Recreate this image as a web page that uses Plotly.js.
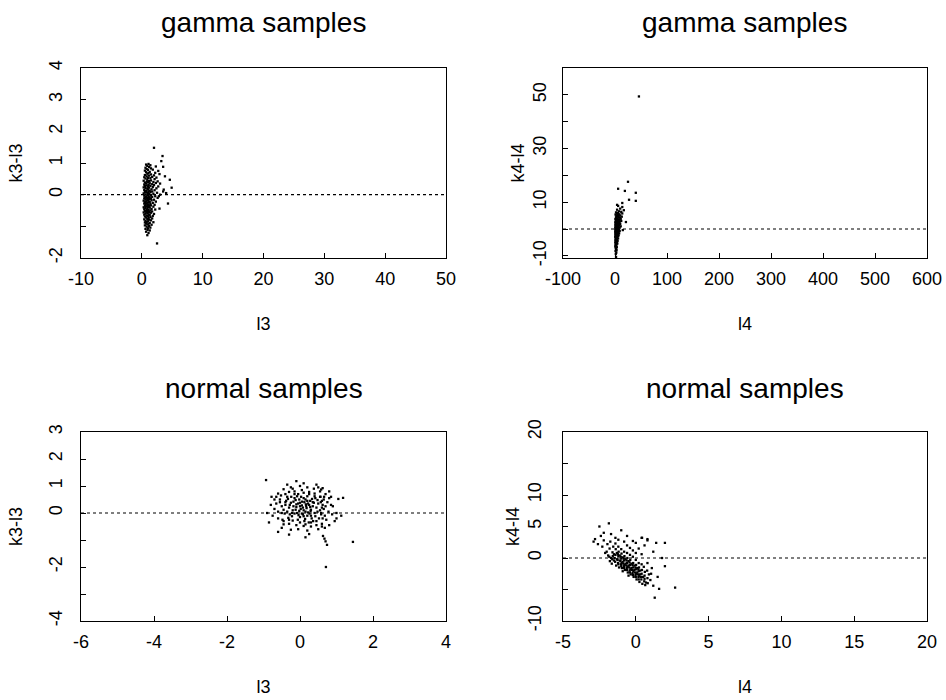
<!DOCTYPE html>
<html><head><meta charset="utf-8">
<script src="https://cdn.plot.ly/plotly-3.0.1.min.js"></script>
<style>body{margin:0;background:#fff}#chart{width:946px;height:700px}</style>
</head><body><div id="chart"></div>
<script>
// gamma samples: [l3, k3-l3]
const gammaL3Points = [
[0.9,-1.28],[1.1,-1.21],[0.7,-1.17],[1.3,-1.13],[0.95,-1.11],
[0.6,-1.08],[1.0,-1.06],[1.4,-1.04],[0.8,-1.01],[1.2,-0.99],[0.5,-0.97],[1.6,-0.95],[0.9,-0.94],[1.1,-0.92],[0.7,-0.91],
[1.3,-0.89],[0.5,-0.88],[1.9,-0.87],[0.8,-0.86],[1.0,-0.84],[0.6,-0.83],[1.5,-0.81],[1.2,-0.79],[0.4,-0.78],[0.9,-0.77],[1.7,-0.75],[1.1,-0.74],[0.7,-0.72],[1.4,-0.71],
[0.5,-0.69],[1.0,-0.68],[1.8,-0.67],[0.8,-0.66],[1.3,-0.64],[0.4,-0.63],[1.1,-0.62],[2.0,-0.61],[0.6,-0.6],[0.9,-0.58],[1.5,-0.57],[0.3,-0.56],[1.2,-0.55],[0.7,-0.54],[1.7,-0.53],[1.0,-0.52],[0.5,-0.51],[1.4,-0.5],
[0.8,-0.49],[1.1,-0.48],[2.2,-0.47],[0.4,-0.46],[1.6,-0.45],[0.9,-0.44],[2.9,-0.44],[0.6,-0.42],[1.3,-0.41],[0.3,-0.4],[1.0,-0.39],[1.9,-0.38],[0.7,-0.37],[1.2,-0.36],[0.5,-0.35],[1.5,-0.34],[0.9,-0.33],[2.1,-0.32],[1.1,-0.31],[0.6,-0.3],
[1.4,-0.29],[4.3,-0.28],[0.4,-0.28],[0.8,-0.27],[1.8,-0.26],[1.0,-0.25],[0.5,-0.24],[1.3,-0.23],[2.3,-0.22],[0.7,-0.21],[1.1,-0.2],[0.3,-0.19],[1.6,-0.18],[0.9,-0.17],[2.0,-0.16],[0.6,-0.15],[1.2,-0.14],[1.5,-0.13],[0.4,-0.12],[0.8,-0.11],[2.6,-0.1],[1.0,-0.1],
[0.5,-0.09],[1.3,-0.08],[1.7,-0.07],[0.7,-0.06],[2.2,-0.05],[1.1,-0.04],[0.4,-0.03],[0.9,-0.02],[1.5,-0.01],[3.0,0.0],[0.6,0.01],[1.2,0.02],[1.9,0.03],[0.3,0.04],[1.0,0.05],[2.5,0.06],[0.8,0.07],[1.4,0.08],[4.0,0.05],[0.5,0.09],[1.7,0.1],[3.5,0.1],[1.1,0.1],[2.8,-0.05],
[0.7,0.12],[1.3,0.13],[2.1,0.14],[0.4,0.15],[1.0,0.16],[3.6,0.16],[1.6,0.17],[0.9,0.19],[2.4,0.2],[0.6,0.21],[1.2,0.22],[4.9,0.22],[0.3,0.23],[1.8,0.24],[1.0,0.25],[2.7,0.26],[0.5,0.27],[1.4,0.28],[0.8,0.29],[2.0,0.3],
[1.1,0.31],[0.4,0.32],[1.7,0.33],[3.0,0.35],[0.7,0.35],[1.3,0.36],[2.3,0.37],[0.5,0.38],[1.0,0.39],[1.9,0.4],[0.8,0.41],[2.6,0.42],[1.2,0.43],[0.3,0.44],[1.5,0.45],[4.6,0.47],[0.9,0.47],[2.1,0.49],
[0.6,0.51],[1.4,0.52],[3.8,0.58],[1.0,0.53],[2.4,0.54],[0.4,0.55],[1.7,0.56],[0.8,0.58],[1.2,0.6],[2.0,0.61],[0.5,0.62],[1.5,0.64],[2.9,0.65],[0.9,0.66],[1.1,0.68],[2.2,0.69],
[0.7,0.71],[1.3,0.72],[2.7,0.75],[0.5,0.76],[1.0,0.78],[1.8,0.79],[0.8,0.81],[1.5,0.83],[3.5,0.88],[0.6,0.85],[1.2,0.87],[2.3,0.89],
[0.9,0.91],[1.4,0.93],[0.7,0.95],[1.1,0.97],[3.2,1.06],[3.4,1.22],[2.0,1.48],[2.5,-1.54]
];
// gamma samples: [l4, k4-l4]
const gammaL4Points = [
[2,-10.4],[1.5,-9.3],[2.5,-8.8],[1,-8.2],[3,-7.9],[2,-7.5],[1.5,-7.1],[3.5,-6.8],[0.5,-6.5],[2.5,-6.2],[1.8,-6.0],
[1,-5.8],[3,-5.6],[4.5,-5.4],[2,-5.2],[0.5,-5.0],[3.5,-4.8],[1.5,-4.6],[5,-4.4],[2.5,-4.3],[0.8,-4.1],[4,-3.9],[1.8,-3.8],[3,-3.6],[6,-3.5],[1.2,-3.3],[2.2,-3.2],[4.2,-3.1],
[0.5,-2.9],[3.5,-2.8],[2,-2.7],[5.5,-2.6],[1,-2.5],[7,-2.4],[3,-2.3],[4.5,-2.2],[1.5,-2.1],[2.5,-2.0],[6,-1.9],[0.8,-1.8],[3.8,-1.7],[8,-1.6],[2,-1.5],[5,-1.4],[1.2,-1.3],[3.2,-1.2],[6.5,-1.1],[0.5,-1.0],[4.2,-0.9],[2.4,-0.8],[9,-0.7],[1.6,-0.6],[5.5,-0.5],[3,-0.4],[15,-0.4],[0.9,-0.3],[7.5,-0.2],[2,-0.1],[4.8,-0.05],
[1,0.1],[3.5,0.2],[6,0.3],[2,0.4],[9,0.5],[0.5,0.6],[4.5,0.7],[7,0.8],[2.8,0.9],[11,1.0],[1.5,1.1],[5.5,1.2],[3.5,1.3],[8,1.4],[0.8,1.5],[6.5,1.6],[2.2,1.7],[4,1.8],[10,1.9],[1.2,2.0],[5,2.1],[3,2.2],[7.5,2.3],[21,2.6],[0.6,2.5],[4.4,2.6],[9,2.7],[2.5,2.8],[6,2.9],[12,3.0],
[1.5,3.1],[4,3.2],[8,3.3],[2.8,3.5],[6.5,3.6],[0.8,3.7],[11,3.8],[5,3.9],[3,4.1],[9.5,4.2],[1.8,4.3],[7,4.5],[13,4.6],[4.5,4.7],[2.5,4.9],[10,5.0],[6,5.2],[1,5.4],[8.5,5.5],[3.5,5.7],[14,5.8],[5.5,6.0],[2,6.2],[12,6.4],
[7.5,6.6],[17,7.0],[4,7.2],[10,7.6],[14,8.2],[6,8.6],[4,9.0],[14,9.7],
[27,10.9],[40,10.5],[19,14.2],[6,15],[40,13.5],[25,17.6],[46,49.4]
];
// normal samples: [l3, k3-l3]
const normalL3Points = [
[0.02,0.15],[-0.1,0.22],[0.15,0.05],[-0.2,0.1],[0.25,0.3],[0.08,-0.05],[-0.05,0.35],[0.3,0.12],[-0.3,0.2],[0.12,0.4],
[-0.15,-0.02],[0.2,-0.1],[0.35,0.25],[-0.25,0.38],[0.05,0.28],[-0.08,0.0],[0.18,0.18],[-0.35,0.05],[0.28,0.45],[-0.12,0.48],
[0.4,0.0],[0.0,-0.15],[-0.22,-0.12],[0.1,0.55],[0.32,-0.2],[-0.4,0.3],[0.22,0.35],[-0.18,0.25],[0.14,-0.22],[-0.02,0.08],
[0.38,0.38],[-0.28,-0.05],[0.06,0.42],[-0.38,0.45],[0.26,-0.02],[-0.06,-0.25],[0.45,0.2],[-0.15,0.55],[0.17,0.26],[-0.32,-0.18],
[0.03,0.6],[0.33,0.52],[-0.24,0.6],[0.12,-0.3],[-0.1,0.32],[0.42,-0.12],[-0.45,0.12],[0.2,0.62],[-0.04,-0.08],[0.29,0.08],
[0.5,0.35],[-0.2,-0.28],[0.08,0.2],[-0.42,-0.02],[0.36,-0.3],[0.55,0.1],[-0.05,0.7],[0.24,-0.35],[-0.33,0.52],[0.15,0.5],
[0.48,0.48],[-0.5,0.25],[0.0,0.38],[0.62,0.3],[0.58,-0.05],[0.55,0.6],[0.6,0.45],[0.65,0.15],[0.52,-0.2],[0.66,0.6],
[0.57,0.4],[0.6,0.2],[0.58,0.0],[0.62,-0.2],[0.6,-0.5],[0.56,0.6],
[-0.12,0.12],[0.1,0.1],[0.22,0.02],[-0.28,0.3],[0.05,-0.02],[0.35,0.4],[-0.18,0.42],[0.28,0.22],[-0.02,0.5],[0.16,0.32],
[-0.35,0.6],[0.42,0.55],[0.0,0.25],[-0.22,0.0],[0.3,-0.1],[0.1,-0.12],[-0.4,0.4],[0.48,0.05],[-0.08,0.62],[0.2,0.45],
[0.65,0.5],[0.7,0.25],[0.68,-0.1],[-0.5,0.0],[-0.55,0.4],[0.4,0.62],[-0.15,0.7],[0.25,0.7],[0.1,0.75],[-0.3,-0.25],
[0.3,-0.35],[-0.45,-0.3],[0.0,-0.35],[0.15,-0.42],[0.45,-0.3],[-0.65,0.6],[0.8,0.55],[0.85,0.3],[-0.2,0.9],[0.5,0.95],
[-0.55,0.5],[-0.6,0.05],[-0.48,-0.25],[-0.52,0.65],[-0.65,0.35],[-0.4,0.7],[-0.3,0.78],[-0.15,0.8],[0.05,0.85],[0.25,0.78],
[0.4,0.72],[0.55,0.8],[0.7,0.7],[0.75,0.4],[0.78,0.05],[0.72,-0.25],[0.6,-0.4],[0.45,-0.45],[0.3,-0.5],[0.1,-0.48],
[-0.1,-0.45],[-0.3,-0.4],[-0.45,-0.42],[-0.6,-0.2],[-0.7,0.15],[-0.7,0.5],[-0.6,0.72],[-0.45,0.88],[-0.25,0.95],[0.0,1.0],
[0.2,0.95],[0.38,0.9],[0.62,0.92],[0.85,0.6],[0.9,0.25],[0.88,-0.05],[0.8,-0.45],[0.68,-0.55],[0.5,-0.6],[0.2,-0.65],
[-0.05,-0.6],[-0.25,-0.62],[-0.5,-0.55],[-0.75,-0.1],[-0.8,0.3],[-0.78,0.6],
[-0.93,1.22],[-0.1,1.18],[-0.35,1.05],[0.1,1.1],[0.45,1.05],[0.58,0.87],[0.8,0.8],[1.05,0.52],[1.18,0.56],[1.13,-0.1],
[1.0,0.0],[0.95,-0.3],[1.0,-0.2],[-0.6,-0.7],[0.25,-0.78],[0.15,-0.9],[-0.3,-0.8],[0.63,-0.85],[0.67,-0.95],[0.7,-1.05],[0.74,-1.18],[1.45,-1.07],[0.71,-2.0],[-0.85,-0.35],[-0.9,0.0]
];
// normal samples: [l4, k4-l4]
const normalL4Points = [
[-2.0,1.0],[-1.95,2.2],[-1.9,0.4],
[-1.8,1.5],[-1.82,0.2],[-1.75,2.6],[-1.78,-0.5],
[-1.6,0.9],[-1.62,-0.2],[-1.55,1.8],[-1.58,0.3],[-1.65,-0.9],
[-1.4,0.5],[-1.42,-0.6],[-1.38,1.4],[-1.45,0.0],[-1.35,-1.2],[-1.4,2.3],
[-1.2,0.3],[-1.22,-0.8],[-1.18,1.0],[-1.25,-0.3],[-1.15,-1.5],[-1.2,1.8],[-1.23,0.6],
[-1.0,-0.1],[-1.02,-1.0],[-0.98,0.7],[-1.05,-0.5],[-0.95,-1.6],[-1.0,1.4],[-1.03,0.2],[-0.97,-0.8],
[-0.8,-0.4],[-0.82,-1.3],[-0.78,0.3],[-0.85,-0.9],[-0.75,-1.9],[-0.8,1.0],[-0.83,-0.1],[-0.77,-1.1],[-0.8,2.6],
[-0.6,-0.8],[-0.62,-1.6],[-0.58,0.0],[-0.65,-1.2],[-0.55,-2.3],[-0.6,0.8],[-0.63,-0.4],[-0.57,-1.4],[-0.6,2.0],
[-0.4,-1.1],[-0.42,-2.0],[-0.38,-0.3],[-0.45,-1.5],[-0.35,-2.6],[-0.4,0.5],[-0.43,-0.7],[-0.37,-1.8],[-0.4,1.6],
[-0.2,-1.5],[-0.22,-2.4],[-0.18,-0.8],[-0.25,-1.9],[-0.15,-3.0],[-0.2,0.2],[-0.23,-1.1],[-0.17,-2.1],[-0.2,1.2],
[0.0,-1.8],[-0.02,-2.7],[0.02,-1.1],[-0.05,-2.3],[0.05,-3.4],[0.0,-0.3],[-0.03,-1.5],[0.03,-2.5],[0.0,2.4],[0.0,0.8],
[0.2,-2.1],[0.18,-3.0],[0.22,-1.5],[0.15,-2.6],[0.25,-3.8],[0.2,-0.8],[0.17,-1.8],[0.23,-2.9],[0.2,1.5],
[0.4,-2.5],[0.38,-3.4],[0.42,-1.9],[0.35,-3.0],[0.45,-4.1],[0.4,-1.0],[0.43,3.2],[0.4,0.6],
[0.6,-2.8],[0.58,-3.7],[0.62,-2.2],[0.55,-1.4],[0.65,-4.3],[0.6,2.0],
[0.8,-3.2],[0.78,-2.0],[0.82,-4.0],[0.8,-0.8],[0.8,2.8],
[-1.3,-0.2],[-1.1,-0.4],[-0.9,-0.6],[-0.7,-0.9],[-0.5,-1.2],[-0.3,-1.6],[-0.1,-1.9],[0.1,-2.3],[0.3,-2.6],[0.5,-3.0],
[-1.5,0.6],[-1.3,0.8],[-1.1,0.4],[-0.9,0.1],[-0.7,-0.2],[-0.5,-0.5],[-0.3,-0.9],[-0.1,-1.2],[0.1,-1.6],[0.3,-2.0],
[-1.2,-1.0],[-1.0,-1.3],[-0.8,-1.6],[-0.6,-1.9],[-0.4,-2.3],[-0.2,-2.7],[0.0,-3.0],[0.2,-3.4],[-0.9,-2.1],[-0.5,-2.8],
[-1.7,0.0],[-1.5,-0.4],[0.6,-3.3],[0.9,-2.6],[0.7,-3.9],
[1.0,-3.5],[1.05,-2.5],[1.2,-4.4],[1.1,-1.6],[1.3,-6.3],[1.6,-4.9],[2.7,-4.7],[2.0,-1.3],[1.8,0.0],[1.4,2.4],[2.0,2.4],[1.2,1.0],[1.5,-3.0],
[-2.5,5.0],[-1.85,5.5],[-2.8,3.0],[-2.2,4.0],[-1.0,4.4],[-1.4,3.2],[-2.4,3.5],[-2.6,2.2],[-2.3,1.8],[-1.7,3.8],[-0.6,3.5],[0.4,3.2],[-2.9,2.6],[-2.1,0.8],[-2.2,2.8],[-1.2,2.9],[-0.2,2.7],[0.8,3.0]
];

const panelTitles = ["gamma samples","gamma samples","normal samples","normal samples"];
const xTitles = ["l3","l4","l3","l4"];
const yTitles = ["k3-l3","k4-l4","k3-l3","k4-l4"];
const xRanges = [[-10,50],[-100,600],[-6,4],[-5,20]];
const yRanges = [[-2,4],[-10.8,60],[-4,3],[-10,20]];
const xTickVals = [[-10,0,10,20,30,40,50],[-100,0,100,200,300,400,500,600],[-6,-4,-2,0,2,4],[-5,0,5,10,15,20]];
const xTickText = [["-10","0","10","20","30","40","50"],["-100","0","100","200","300","400","500","600"],["-6","-4","-2","0","2","4"],["-5","0","5","10","15","20"]];
const yTickVals = [[-2,-1,0,1,2,3,4],[-10,0,10,20,30,40,50],[-4,-3,-2,-1,0,1,2,3],[-10,-5,0,5,10,15,20]];
const yTickText = [["-2","","0","1","2","3","4"],["-10","","10","","30","","50"],["-4","","-2","","0","1","2","3"],["-10","","0","5","10","","20"]];

const W = 946, H = 700;
const colX = [[81,446],[563,927]];
const rowY = [[68,258],[432,621]];
const FONT = "Liberation Sans, Arial, Helvetica, sans-serif";
const yLabelStandoff = [11, 9, 11, 14];
const yTitleStandoff = [18, 0, 18, 0];

const sets = [gammaL3Points, gammaL4Points, normalL3Points, normalL4Points];
const data = sets.map((pts,i)=>({
  type:'scatter', mode:'markers',
  x: pts.map(p=>p[0]), y: pts.map(p=>p[1]),
  xaxis: i===0?'x':'x'+(i+1), yaxis: i===0?'y':'y'+(i+1),
  marker:{symbol:'square', size:2.3, color:'#000'},
  hoverinfo:'skip', showlegend:false
}));

const layout = {
  width:W, height:H, margin:{l:0,r:0,t:0,b:0},
  paper_bgcolor:'#fff', plot_bgcolor:'#fff',
  font:{family:FONT, color:'#000', size:18},
  showlegend:false, annotations:[], shapes:[]
};
for (let i=0;i<4;i++){
  const c = i%2, r = Math.floor(i/2);
  const sfx = i===0?'':String(i+1);
  const xd = [colX[c][0]/W, colX[c][1]/W];
  const yd = [1-rowY[r][1]/H, 1-rowY[r][0]/H];
  const common = {showline:true, mirror:true, linecolor:'#000', linewidth:1.3,
    ticks:'inside', ticklen:5, tickcolor:'#000', tickwidth:1,
    showgrid:false, zeroline:false, tickmode:'array', fixedrange:true,
    tickfont:{family:FONT, size:18, color:'#000'}};
  layout['xaxis'+sfx] = Object.assign({}, common, {
    domain:xd, range:xRanges[i], anchor:'y'+sfx,
    tickvals:xTickVals[i], ticktext:xTickText[i], ticklabelstandoff:4,
    title:{text:xTitles[i], font:{family:FONT,size:18,color:'#000'}, standoff:29}
  });
  layout['yaxis'+sfx] = Object.assign({}, common, {
    domain:yd, range:yRanges[i], anchor:'x'+sfx,
    tickvals:yTickVals[i], ticktext:yTickText[i], tickangle:-90, ticklabelstandoff:yLabelStandoff[i],
    title:{text:yTitles[i], font:{family:FONT,size:18,color:'#000'}, standoff:yTitleStandoff[i]}
  });
  layout.annotations.push({
    text:panelTitles[i], xref:'paper', yref:'paper', showarrow:false,
    x:(xd[0]+xd[1])/2, y: r===0 ? 1-22/H : 1-388/H, xanchor:'center', yanchor:'middle',
    font:{family:FONT, size:28, color:'#000'}
  });
  layout.shapes.push({type:'line', xref:'x'+sfx+' domain', yref:'y'+sfx, x0:0, x1:1, y0:0, y1:0,
    line:{color:'#000', width:1.2, dash:'dot'}});
}
Plotly.newPlot('chart', data, layout, {staticPlot:true, displayModeBar:false});
</script>
</body></html>
